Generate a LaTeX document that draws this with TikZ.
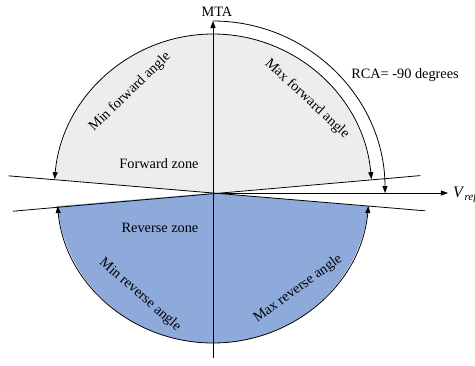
\documentclass[tikz,border=0pt]{standalone}
\usepackage{fontspec}
\setmainfont{Liberation Serif}
\usetikzlibrary{arrows.meta}
\definecolor{fwdgray}{HTML}{EDEDED}
\definecolor{revblue}{HTML}{8EAADB}
\begin{document}
\begin{tikzpicture}[x=1pt,y=1pt,
  lbl/.style={font=\fontsize{14.3}{16}\selectfont, inner sep=0pt},
  ln/.style={line width=0.8pt},
  arr/.style={ln,-{Triangle[length=7pt,width=5pt]}}]
\useasboundingbox (-213,-172) rectangle (262,193);
\coordinate (O) at (0,0);
% zones
\fill[fwdgray] (O) -- (5:159) arc[start angle=5,end angle=175,radius=159] -- cycle;
\fill[revblue] (O) -- (185:156 and 150) arc[start angle=185,end angle=355,x radius=156,y radius=150] -- cycle;
% boundary lines
\coordinate (A1) at (175.2:205);
\coordinate (A2) at (-4.8:213);
\coordinate (B1) at (185.2:201);
\coordinate (B2) at (4.8:208);
\draw[ln] (A1) -- (A2);
\draw[ln] (B1) -- (B2);
% angle arcs
\coordinate (Ftop) at (90:159);
\coordinate (Rbot) at (270:156 and 150);
\draw[arr] (Ftop) arc[start angle=90,end angle=175,radius=159];
\draw[arr] (Ftop) arc[start angle=90,end angle=5,radius=159];
\draw[arr] (Rbot) arc[start angle=270,end angle=185,x radius=156,y radius=150];
\draw[arr] (Rbot) arc[start angle=270,end angle=355,x radius=156,y radius=150];
% axes
\coordinate (bot) at (0,-165);
\coordinate (top) at (0,172);
\coordinate (vend) at (235,0);
\draw[arr] (bot) -- (top);
\draw[arr] (O) -- (vend);
% RCA arc
\coordinate (Rtop) at (90:172);
\draw[arr] (Rtop) arc[start angle=90,end angle=0,radius=172];
% labels
\node[lbl] (mta) at (4,181) {MTA};
\node[lbl, anchor=west] (vref) at (240,-2) {\fontsize{16}{18}\selectfont\textit{V}\raisebox{-0.45ex}{\fontsize{11}{12}\selectfont\textit{ref}}};
\node[lbl] (rca) at (192,118) {RCA= -90 degrees};
\node[lbl] (fz) at (-54,29) {Forward zone};
\node[lbl] (rz) at (-53,-35) {Reverse zone};
\node[lbl, rotate=44] (minf) at (-83,101) {Min forward angle};
\node[lbl, rotate=-43] (maxf) at (94,94) {Max forward angle};
\node[lbl, rotate=-41] (minr) at (-73,-102) {Min reverse angle};
\node[lbl, rotate=36] (maxr) at (85,-96) {Max reverse angle};
\end{tikzpicture}
\end{document}
